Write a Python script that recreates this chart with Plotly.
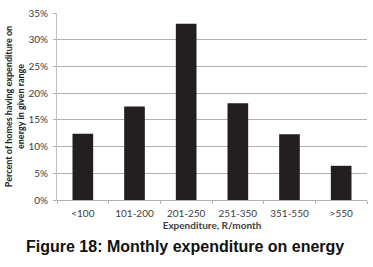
import plotly.graph_objects as go

categories = ["<100", "101-200", "201-250", "251-350", "351-550", ">550"]
values = [12.4, 17.5, 33.0, 18.1, 12.3, 6.4]
y_ticks = [0, 5, 10, 15, 20, 25, 30, 35]
y_tick_labels = [f"{v}%" for v in y_ticks]

fig = go.Figure()
fig.add_trace(go.Bar(x=categories, y=values, marker=dict(color="#231f20", line=dict(width=0)), width=0.4))

fig.update_layout(
    width=373, height=267,
    margin=dict(l=57, r=6, t=8, b=67),
    paper_bgcolor="white", plot_bgcolor="white",
    showlegend=False,
    font=dict(family="Lato", size=10, color="#404040"),
)
fig.update_xaxes(
    showline=True, linecolor="#b0b0b0", linewidth=1,
    ticks="outside", ticklen=3, tickcolor="#b0b0b0",
    tickson="boundaries", ticklabelstandoff=4,
    tickfont=dict(size=10, color="#404040"),
    title=dict(text="<b>Expenditure, R/month</b>", font=dict(size=10, color="#404040"), standoff=2),
)
fig.update_yaxes(
    range=[0, 35], tickvals=y_ticks, ticktext=y_tick_labels,
    showline=True, linecolor="#c0c0c0", linewidth=1,
    ticks="outside", ticklen=3, tickcolor="#b0b0b0",
    ticklabelstandoff=3,
    showgrid=True, gridcolor="#b0b0b0", gridwidth=1,
    tickfont=dict(size=10, color="#404040"),
    title=dict(text="<b>Percent of homes having expenditure on<br>energy in given range</b>",
               font=dict(size=9, color="#222222"), standoff=2),
)
# title centred at pixel x=185, y=247; plot spans x 57..367, y 8..200
fig.add_annotation(
    text="<b>Figure 18: Monthly expenditure on energy</b>",
    x=(185 - 57) / 310, xref="paper", y=(200 - 248) / 192, yref="paper",
    xanchor="center", yanchor="middle", showarrow=False,
    font=dict(family="Liberation Sans", size=16, color="#111111"),
)
fig.write_html("out.html")
